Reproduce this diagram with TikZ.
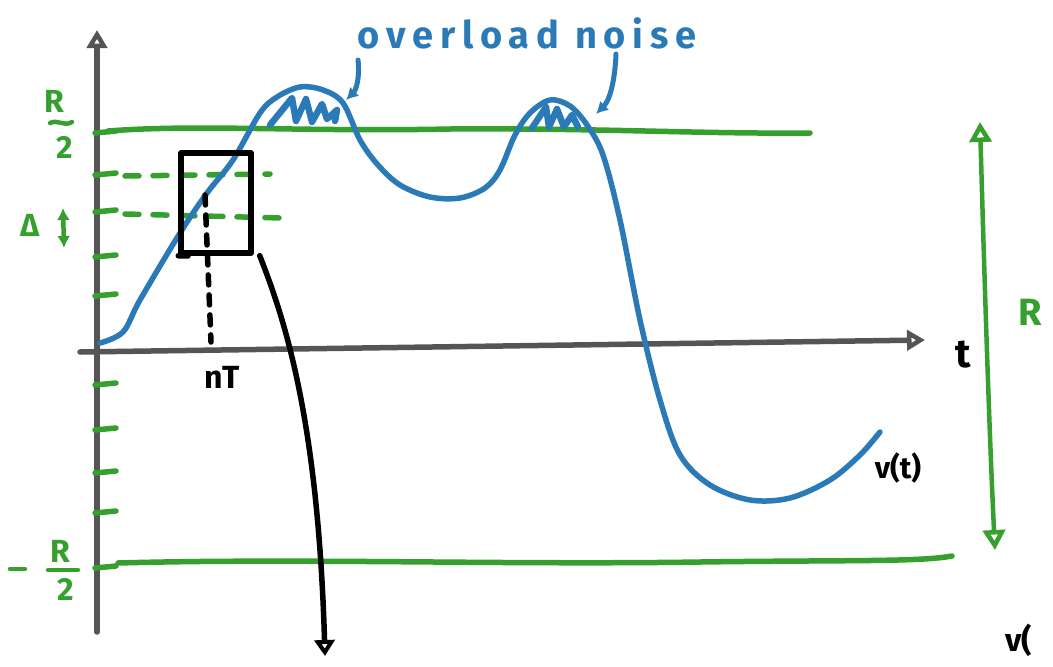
\documentclass[tikz,border=0pt]{standalone}
\usepackage{fontspec}
\setmainfont{Fira Sans}
\usetikzlibrary{arrows.meta}
\definecolor{cblue}{HTML}{2A7AB8}
\definecolor{cgreen}{HTML}{35A02D}
\definecolor{cgray}{HTML}{555555}
\begin{document}
\begin{tikzpicture}[x=1pt,y=-1pt,line cap=round,line join=round,
  stroke/.style={line width=5.5pt},
  axisline/.style={stroke,cgray},
  gline/.style={stroke,cgreen},
  bline/.style={stroke,black},
  curveline/.style={stroke,cblue},
  tickmark/.style={stroke,cgreen},
  dashgreen/.style={stroke,cgreen,dash pattern=on 14pt off 14pt},
  dashblack/.style={stroke,black,dash pattern=on 10pt off 10pt},
  opentip/.style={-{Triangle[open,length=18pt,width=20pt,line width=5pt]}},
  lbl/.style={inner sep=0pt,font=\fontsize{32}{36}\selectfont\bfseries},
  glbl/.style={lbl,text=cgreen},
  blbl/.style={lbl,text=cblue},
  klbl/.style={lbl,text=black}]
\useasboundingbox (0,0) rectangle (1053,667);

% axes
\coordinate (yb) at (97,632);
\coordinate (yt) at (97,30);
\coordinate (xl) at (80,352);
\coordinate (xr) at (925,340);
\draw[axisline,opentip] (yb) -- (yt);
\draw[axisline,opentip] (xl) -- (xr);
\node[klbl,font=\fontsize{40}{44}\selectfont\bfseries] (tlab) at (963,355) {t};

% green levels
\draw[gline] (108,131) .. controls (200,124) and (300,132) .. (450,129) .. controls (600,128) and (700,134) .. (810,133);
\draw[gline] (118,563) .. controls (300,558) and (500,565) .. (700,562) .. controls (850,560) and (920,562) .. (952,556);

% ticks
\foreach \yy in {133,175,212,257,296,385,430,473,513,568}
  \draw[tickmark] (95,\yy) -- (116,\yy-2);

% dashed green levels
\draw[dashgreen] (125,176) -- (270,174);
\draw[dashgreen] (125,214) -- (282,218);

% labels R/2, -R/2
\node[glbl] (Rtop) at (54,101) {R};
\draw[gline,line width=4.5pt] (50,123) .. controls (58,119) and (64,127) .. (72,122);
\node[glbl] (Rtwo) at (65,147) {2};
\draw[gline,line width=4.5pt] (10,569) -- (25,569);
\node[glbl] (Rbot) at (60,551) {R};
\draw[gline,line width=4.5pt] (48,570) -- (78,570);
\node[glbl] (Rbtwo) at (66,589) {2};

% Delta
\node[glbl] (delta) at (30,225) {Δ};
\coordinate (da) at (63,208);
\coordinate (db) at (64,248);
\draw[gline,line width=4.5pt,{Latex[length=12pt,width=13pt]}-{Latex[length=12pt,width=13pt]}] (da) -- (db);

% blue curve v(t)
\draw[curveline] plot[smooth,tension=0.55] coordinates {
 (100,343) (123,332) (140,300) (180,233) (207,193) (233,160) (260,113) (277,97)
 (300,87) (323,90) (343,103) (360,140) (378,165) (400,185) (430,197) (460,198)
 (485,188) (500,170) (515,135) (530,113) (550,100) (570,106) (587,125) (603,155)
 (620,220) (640,320) (660,400) (680,455) (710,485) (750,500) (790,498) (830,480)
 (860,455) (880,432)};
\node[klbl,font=\fontsize{30}{34}\selectfont\bfseries] (vt) at (898,468) {v(t)};

% overload hatch
\draw[curveline,line width=6.5pt] (270,125) -- (292,98) -- (296,121) -- (306,99) -- (312,122) -- (322,104) -- (327,119) -- (337,110) -- (335,121);
\draw[curveline,line width=6.5pt] (532,128) -- (546,107) -- (549,127) -- (557,109) -- (564,127) -- (572,115) -- (578,127);

% overload noise text and arrows
\node[blbl,font=\fontsize{38}{42}\selectfont\bfseries\addfontfeatures{LetterSpace=18}] (noise) at (527,33) {overload noise};
\coordinate (n1a) at (358,60);
\coordinate (n1b) at (346,100);
\coordinate (n2a) at (616,54);
\coordinate (n2b) at (596,114);
\draw[curveline,line width=5pt,-{Latex[length=12pt,width=13pt]}] (n1a) .. controls (360,78) and (356,90) .. (n1b);
\draw[curveline,line width=5pt,-{Latex[length=12pt,width=13pt]}] (n2a) .. controls (615,80) and (610,100) .. (n2b);

% sample box
\node[draw=black,line width=5.5pt,minimum width=70pt,minimum height=100pt,inner sep=0pt] (box) at (216,203) {};
\draw[bline] (188,256) -- (box.south west);
\coordinate (nTtop) at (205,195);
\node[klbl] (nT) at (222,377) {nT};
\draw[dashblack] (nTtop) -- (211,342);
\coordinate (outend) at (325,656);
\draw[bline,-{Triangle[open,length=16pt,width=20pt,line width=5pt]}] ([xshift=6pt]box.south east) .. controls (285,320) and (318,420) .. (outend);

% R range arrow
\coordinate (rt) at (980,122);
\coordinate (rb) at (995,550);
\draw[gline,line width=4.5pt,{Triangle[open,length=20pt,width=22pt,line width=4.5pt]}-{Triangle[open,length=20pt,width=22pt,line width=4.5pt]}] (rt) .. controls (985,300) and (990,450) .. (rb);
\node[glbl,anchor=west,font=\fontsize{38}{42}\selectfont\bfseries] (Rlab) at (1018,312) {R};
\node[klbl,anchor=west] (vcut) at (1005,640) {v(};
\end{tikzpicture}
\end{document}
